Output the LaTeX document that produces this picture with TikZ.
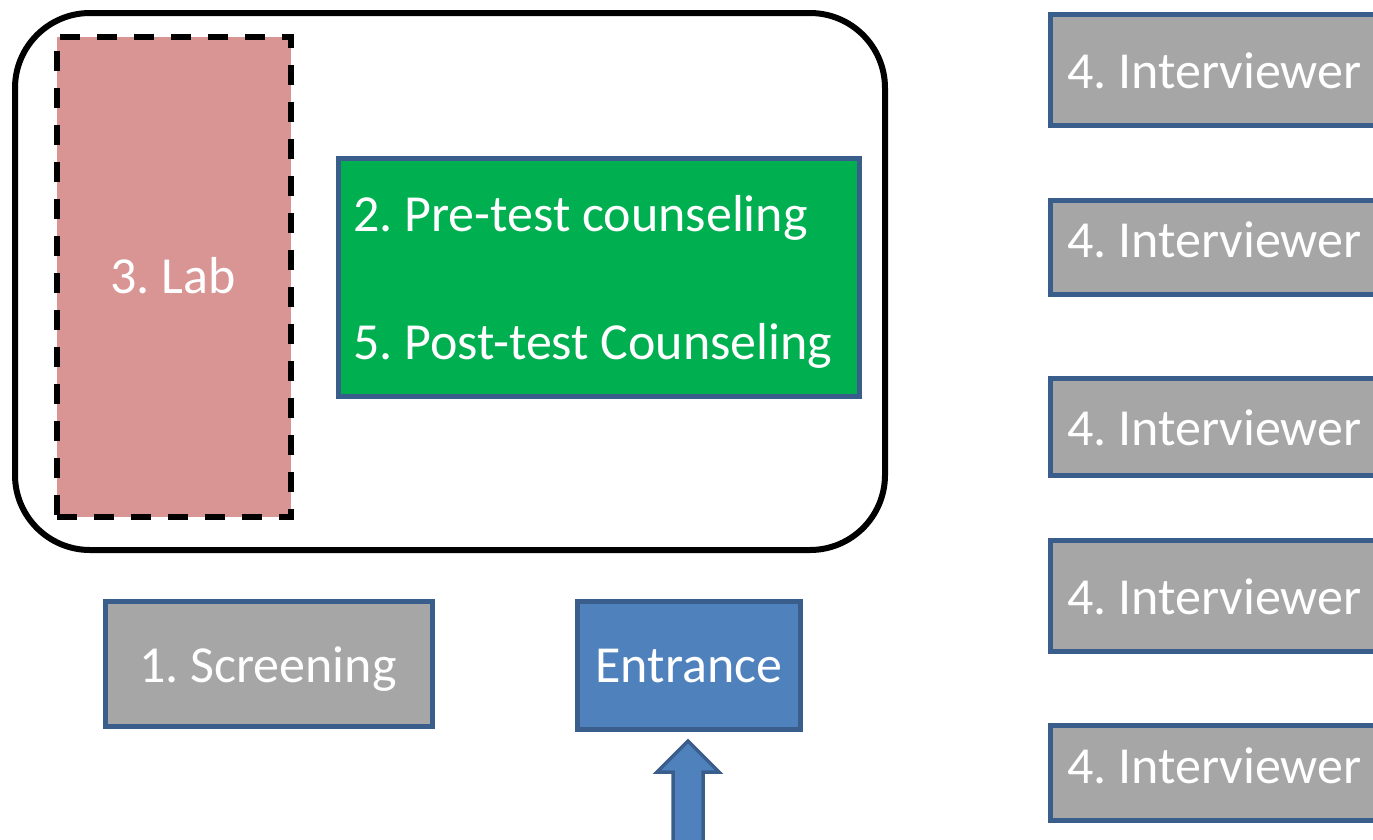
\documentclass[tikz,border=0pt]{standalone}
\usepackage{fontspec}
\setmainfont{Carlito}
\frenchspacing
\definecolor{bordblue}{HTML}{3A5E8C}
\definecolor{greyfill}{HTML}{A6A6A6}
\definecolor{greenfill}{HTML}{00B050}
\definecolor{labfill}{HTML}{D99594}
\definecolor{entfill}{HTML}{4F81BD}
\begin{document}
\begin{tikzpicture}[x=1pt,y=-1pt,
  txt/.style={text=white,font=\fontsize{52}{60}\selectfont,inner sep=0pt},
  boxshape/.style={draw=bordblue,line width=4.5pt,anchor=north west,inner sep=0pt},
  greybox/.style={boxshape,fill=greyfill},
  ibox/.style={greybox,minimum width=360pt,minimum height=#1},
  ]
\useasboundingbox (0,0) rectangle (1373,839);
\clip (0,0) rectangle (1373,839);
% outer room
\draw[line width=6pt,rounded corners=75pt] (15,13) rectangle (885,550);
% lab
\node[fill=labfill,draw=black,line width=6pt,dash pattern=on 20pt off 17pt,
  minimum width=234pt,minimum height=480pt,anchor=north west,inner sep=0pt] (lab) at (54,34) {};
\node[txt,anchor=base] (labt) at (173,293) {3. Lab};
% green counseling box
\node[boxshape,fill=greenfill,minimum width=521pt,minimum height=238pt] (coun) at (336,156) {};
\node[txt,anchor=base west] (pre) at (353,231) {2. Pre-test counseling};
\node[txt,anchor=base west] (post) at (353,359) {5. Post-test Counseling};
% screening
\node[greybox,minimum width=327pt,minimum height=125pt] (scr) at (103,599) {};
\node[txt,anchor=base] (scrt) at (268,682) {1. Screening};
% entrance
\node[boxshape,fill=entfill,minimum width=223pt,minimum height=128pt] (ent) at (575,599) {};
\node[txt,anchor=base] (entt) at (689,682) {Entrance};
% arrow
\coordinate (tip) at (688,741);
\draw[draw=bordblue,fill=entfill,line width=3.5pt,line join=miter]
  (673,850) -- (673,772) -- (657,772) -- (tip) -- (719,772) -- (703,772) -- (703,850) -- cycle;
% interviewers
\node[ibox=111pt] (i1) at (1048,12) {};
\node[ibox=94pt] (i2) at (1048,198) {};
\node[ibox=97pt] (i3) at (1048,376) {};
\node[ibox=111pt] (i4) at (1048,538) {};
\node[ibox=95pt] (i5) at (1048,723) {};
\node[txt,anchor=base west] (t1) at (1067,88) {4. Interviewer};
\node[txt,anchor=base west] (t2) at (1067,257) {4. Interviewer};
\node[txt,anchor=base west] (t3) at (1067,445) {4. Interviewer};
\node[txt,anchor=base west] (t4) at (1067,614) {4. Interviewer};
\node[txt,anchor=base west] (t5) at (1067,783) {4. Interviewer};
\end{tikzpicture}
\end{document}
